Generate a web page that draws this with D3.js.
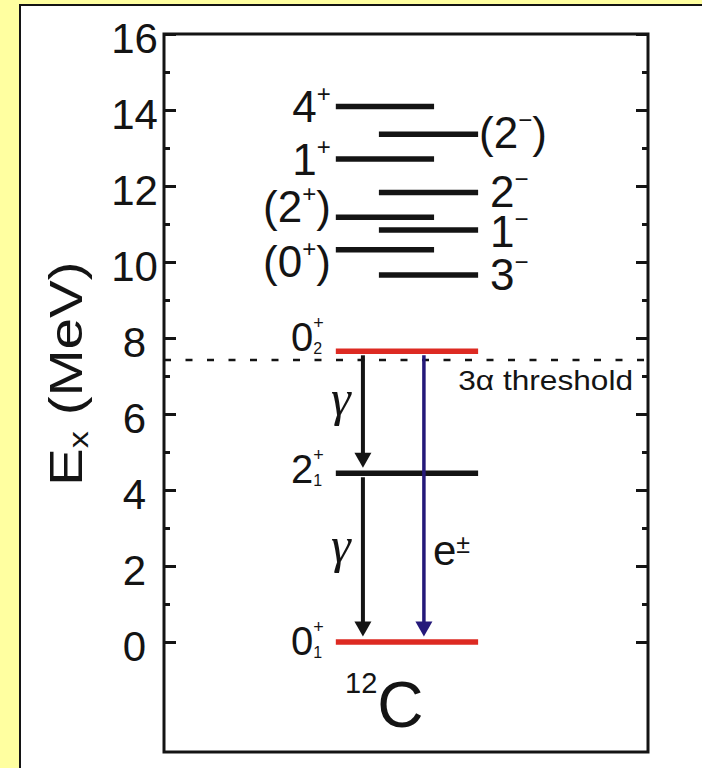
<!DOCTYPE html>
<html>
<head>
<meta charset="utf-8">
<script src="https://cdn.jsdelivr.net/npm/d3@7"></script>
<style>
body { margin: 0; background: #ffffa0; }
svg text { font-family: "Liberation Sans", Arial, sans-serif; fill: #141414; }
</style>
</head>
<body>
<svg class="chart" width="702" height="768"></svg>
<script>
// level scheme of 12C
var levelEnergy = [0, 4.44, 7.65, 9.66, 10.32, 10.84, 11.18, 11.83, 12.71, 13.36, 14.09];
var levelSpin   = ['0', '2', '0', '3', '0', '1', '2', '2', '1', '2', '4'];
var levelParity = ['+', '+', '+', '\u2212', '+', '\u2212', '+', '\u2212', '+', '\u2212', '+'];
var levelIndex  = ['1', '1', '2', '', '', '', '', '', '', '', ''];
var levelTentative = [false, false, false, false, true, false, true, false, false, true, false];
var levelColumn = ['full', 'full', 'full', 'right', 'left', 'right', 'left', 'right', 'left', 'right', 'left'];

var transFrom = [7.65, 4.44, 7.65];
var transTo   = [4.44, 0, 0];
var transType = ['gamma', 'gamma', 'pair'];

var thresholdEnergy = 7.42;
var majorTicks = [0, 2, 4, 6, 8, 10, 12, 14, 16];
var minorTicks = [1, 3, 5, 7, 9, 11, 13, 15];

// layout
var frame = {left: 164, right: 648, top: 34, bottom: 752};
var y = d3.scaleLinear().domain([0, 16]).range([642, frame.top]);
var x = d3.scaleLinear().domain([0, 100]).range([frame.left, frame.right]);
var columnSpan = {left: [35.5, 55.8], right: [44.4, 64.9], full: [35.5, 64.9]};
var transX = {gamma: 41.1, pair: 53.7};
var labelShift = [13, 10, 0, 15, 27, 17, 5, 15, 16, 14, 15];
var transLabelE = [5.97, 2.1, 2.03];

var svg = d3.select('svg.chart');

svg.append('rect')
    .attr('x', 20).attr('y', 5)
    .attr('width', 700).attr('height', 780)
    .attr('fill', '#fff')
    .attr('stroke', '#141414')
    .attr('stroke-width', 2);

// axes (ticks pointing inward)
var axisG = svg.append('g').attr('class', 'axes');

axisG.append('g')
    .attr('transform', 'translate(' + frame.left + ',0)')
    .call(d3.axisLeft(y).tickValues(majorTicks).tickSize(-12).tickSizeOuter(0).tickPadding(29.5));

axisG.append('g')
    .attr('transform', 'translate(' + frame.left + ',0)')
    .call(d3.axisLeft(y).tickValues(minorTicks).tickSize(-6).tickSizeOuter(0).tickFormat(''));

axisG.append('g')
    .attr('transform', 'translate(' + frame.right + ',0)')
    .call(d3.axisRight(y).tickValues(majorTicks).tickSize(-12).tickSizeOuter(0).tickFormat(''));

axisG.append('g')
    .attr('transform', 'translate(' + frame.right + ',0)')
    .call(d3.axisRight(y).tickValues(minorTicks).tickSize(-6).tickSizeOuter(0).tickFormat(''));

axisG.selectAll('.domain').remove();
axisG.selectAll('.tick line').attr('stroke', '#141414').attr('stroke-width', 3);
axisG.selectAll('.tick text')
    .attr('text-anchor', 'middle')
    .attr('dy', '0.44em')
    .style('font-size', '42px')
    .style('font-family', '"Liberation Sans", Arial, sans-serif')
    .attr('fill', '#141414');

svg.append('rect')
    .attr('x', frame.left).attr('y', frame.top)
    .attr('width', frame.right - frame.left)
    .attr('height', frame.bottom - frame.top)
    .attr('fill', 'none')
    .attr('stroke', '#141414')
    .attr('stroke-width', 3);

// y title (the original lettering is stretched along the text)
var title = svg.append('text')
    .attr('transform', 'translate(82,486) rotate(-90) scale(1.23,1)')
    .style('font-size', '46px');
title.append('tspan').text('E');
title.append('tspan').attr('dy', 6).style('font-size', '28px').text('x');
title.append('tspan').attr('dy', -6).text(' (MeV)');

// threshold
svg.append('line')
    .attr('x1', frame.left).attr('x2', frame.right)
    .attr('y1', y(thresholdEnergy)).attr('y2', y(thresholdEnergy))
    .attr('stroke', '#141414')
    .attr('stroke-width', 2.5)
    .attr('stroke-dasharray', '7,14.5');

svg.append('text')
    .attr('transform', 'translate(633,390) scale(1.13,1)')
    .attr('text-anchor', 'end')
    .style('font-size', '28px')
    .text('3\u03b1 threshold');

// levels
var levels = levelEnergy.map(function(e, i){
    return {e: e, spin: levelSpin[i], parity: levelParity[i], index: levelIndex[i],
        tentative: levelTentative[i], column: levelColumn[i], shift: labelShift[i]};
});

var levelG = svg.append('g').attr('class', 'levels');

levelG.selectAll('line.level')
    .data(levels)
    .enter().append('line').classed('level', true)
    .attr('x1', function(d){ return x(columnSpan[d.column][0]); })
    .attr('x2', function(d){ return x(columnSpan[d.column][1]); })
    .attr('y1', function(d){ return y(d.e); })
    .attr('y2', function(d){ return y(d.e); })
    .attr('stroke', function(d){ return d.column === 'full' && d.spin === '0' ? '#dd2a22' : '#141414'; })
    .attr('stroke-width', 5.5);

// transitions
var arrowColor = {gamma: '#141414', pair: '#25197a'};
var headW = 8.5, headL = 15;

transFrom.forEach(function(from, i){
    var t = transType[i];
    var ax = x(transX[t]);
    var y0 = y(from) + 4;
    var tip = y(transTo[i]) - 5.5;
    svg.append('line')
        .attr('x1', ax).attr('x2', ax)
        .attr('y1', y0).attr('y2', tip - headL + 1)
        .attr('stroke', arrowColor[t])
        .attr('stroke-width', t === 'gamma' ? 4 : 3.5);
    svg.append('path')
        .attr('d', 'M' + [ax - headW, tip - headL] + 'L' + [ax + headW, tip - headL] + 'L' + [ax, tip] + 'Z')
        .attr('fill', arrowColor[t]);

    var lab = svg.append('text').attr('y', y(transLabelE[i]));
    if(t === 'gamma'){
        lab.attr('x', ax - 22)
            .attr('text-anchor', 'middle')
            .style('font-family', '"Liberation Serif", "DejaVu Serif", serif')
            .style('font-style', 'italic')
            .style('font-size', '50px')
            .text('\u03b3');
    } else {
        lab.attr('x', ax + 9).style('font-size', '42px');
        lab.append('tspan').text('e');
        lab.append('tspan').attr('dy', -12).style('font-size', '25px').text('\u00b1');
    }
});

// level labels
levels.forEach(function(d){
    var ly = y(d.e) + d.shift;
    var t = svg.append('text').attr('y', ly);
    if(d.column === 'full'){
        t.attr('x', 291).style('font-size', '40px');
        t.append('tspan').text(d.spin);
        t.append('tspan').attr('dy', -22).style('font-size', '18px').text(d.parity);
        t.append('tspan').attr('dx', -10.5).attr('dy', 25).style('font-size', '16px').text(d.index);
    } else {
        t.style('font-size', '44px');
        if(d.column === 'left'){
            t.attr('x', x(columnSpan.left[0]) - 5).attr('text-anchor', 'end');
        } else {
            t.attr('x', x(columnSpan.right[1]) + 12).attr('dx', d.tentative ? -11 : 0);
        }
        t.append('tspan').text((d.tentative ? '(' : '') + d.spin);
        t.append('tspan').attr('dy', -20).style('font-size', '24px').text(d.parity);
        if(d.tentative) t.append('tspan').attr('dy', 20).text(')');
    }
});

// nucleus name
var nuc = svg.append('text').attr('x', 345).attr('y', 693);
nuc.append('tspan').style('font-size', '29px').text('12');
nuc.append('tspan').attr('dy', 34).style('font-size', '64px').text('C');
</script>
</body>
</html>
